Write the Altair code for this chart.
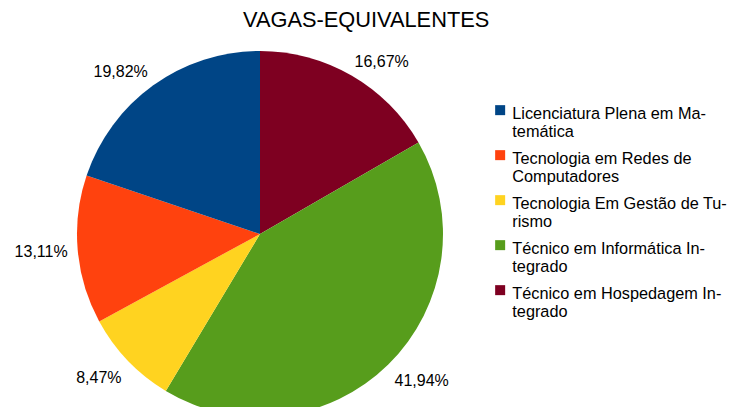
import altair as alt
import pandas as pd

# slices in clockwise order from 12 o'clock
categories = [
    "Técnico em Hospedagem Integrado",
    "Técnico em Informática Integrado",
    "Tecnologia Em Gestão de Turismo",
    "Tecnologia em Redes de Computadores",
    "Licenciatura Plena em Matemática",
]
values = [16.67, 41.94, 8.47, 13.11, 19.82]
pct_labels = ["16,67%", "41,94%", "8,47%", "13,11%", "19,82%"]

legend_order = [
    "Licenciatura Plena em Matemática",
    "Tecnologia em Redes de Computadores",
    "Tecnologia Em Gestão de Turismo",
    "Técnico em Informática Integrado",
    "Técnico em Hospedagem Integrado",
]
legend_texts = [
    "Licenciatura Plena em Ma-|temática",
    "Tecnologia em Redes de|Computadores",
    "Tecnologia Em Gestão de Tu-|rismo",
    "Técnico em Informática In-|tegrado",
    "Técnico em Hospedagem In-|tegrado",
]
colors = ["#004586", "#ff420e", "#ffd320", "#579d1c", "#7e0021"]

# label anchoring (style only): per slice, (align, baseline, dx, dy)
label_anchor = [
    ("left", "bottom", 0, 0),
    ("left", "top", 2, 4),
    ("right", "top", -2, 5),
    ("right", "middle", -4, 2),
    ("right", "bottom", -2, 0),
]

df = pd.DataFrame({
    "cat": categories,
    "val": values,
    "lbl": pct_labels,
    "idx": list(range(len(categories))),
})
total = float(sum(values))

label_map = "{" + ",".join(
    f"'{c}': '{t}'" for c, t in zip(legend_order, legend_texts)
) + "}"

FONT = "Liberation Sans"
CX, CY, R = 252, 196, 183
theta_scale = alt.Scale(domain=[0, total])

pie = alt.Chart(df).mark_arc(radius=R).encode(
    theta=alt.Theta("val:Q", stack=True, scale=theta_scale),
    order=alt.Order("idx:Q"),
    x=alt.value(CX),
    y=alt.value(CY),
    color=alt.Color(
        "cat:N",
        scale=alt.Scale(domain=legend_order, range=colors),
        legend=alt.Legend(
            title=None,
            orient="none",
            legendX=484,
            legendY=60,
            symbolType="M-1,-0.2H1V1.8H-1Z",
            symbolSize=100,
            symbolStrokeWidth=0,
            labelFont=FONT,
            labelFontSize=16.3,
            labelColor="#000000",
            labelLimit=300,
            labelBaseline="top",
            labelOffset=4,
            rowPadding=2,
            labelExpr=f"split({label_map}[datum.label], '|')",
        ),
    ),
)

lab_base = alt.Chart(df).transform_window(
    cum="sum(val)", sort=[alt.SortField("idx")], frame=[None, 0]
).transform_calculate(mid="datum.cum - datum.val / 2")

layers = [pie]
for i, (al, bl, ddx, ddy) in enumerate(label_anchor):
    layers.append(
        lab_base.transform_filter(alt.datum.idx == i)
        .mark_text(radius=R + 6, align=al, baseline=bl, dx=ddx, dy=ddy,
                   font=FONT, fontSize=16, color="#000000")
        .encode(
            theta=alt.Theta("mid:Q", stack=False, scale=theta_scale),
            x=alt.value(CX),
            y=alt.value(CY),
            text="lbl:N",
        )
    )

chart = (
    alt.layer(*layers)
    .properties(
        width=725,
        height=369,
        padding={"top": 30, "left": 0, "right": 0, "bottom": 0},
        autosize=alt.AutoSizeParams(type="none"),
        title=alt.Title(
            "VAGAS-EQUIVALENTES",
            font=FONT,
            fontSize=21.8,
            fontWeight="normal",
            color="#000000",
            anchor="start",
            dx=235,
            offset=6,
        ),
    )
    .configure_view(stroke=None)
)

chart.save("out.html", embed_options={"renderer": "svg", "actions": False})
